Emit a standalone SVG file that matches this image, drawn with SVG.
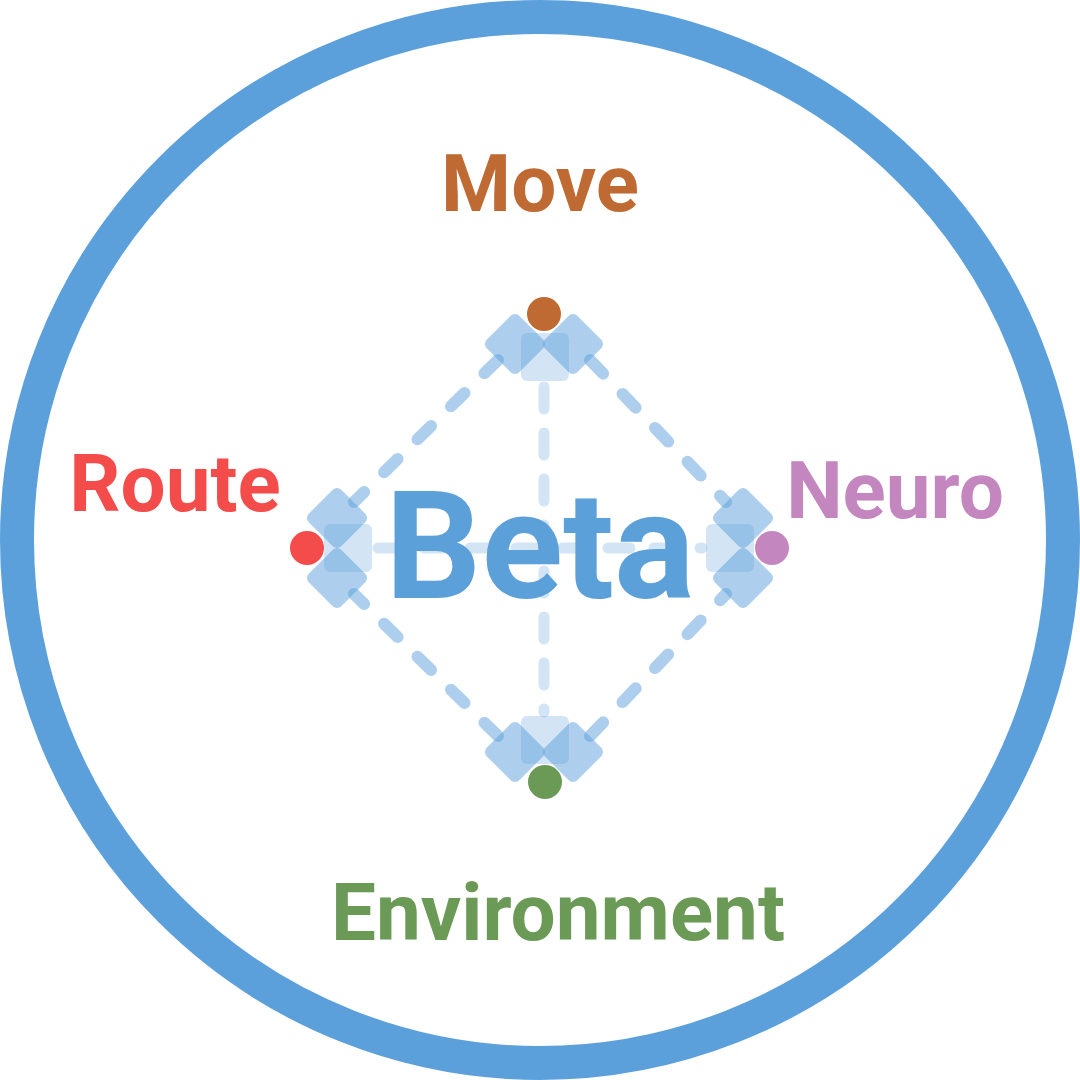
<svg xmlns="http://www.w3.org/2000/svg" width="1080" height="1080" viewBox="0 0 1080 1080">
  <style>
    .lbl { font-family: Roboto, "Liberation Sans", sans-serif; font-weight: 700; text-anchor: middle; }
    .edge { fill: none; stroke: #5b9fdb; stroke-opacity: 0.5; stroke-width: 12; stroke-linecap: round; stroke-dasharray: 19 28; }
    .axis { fill: none; stroke: #5b9fdb; stroke-opacity: 0.27; stroke-width: 11; stroke-linecap: round; stroke-dasharray: 22 24; }
    .port { fill: #5b9fdb; fill-opacity: 0.5; }
    .pad { fill: #5b9fdb; fill-opacity: 0.27; }
  </style>
  <defs>
    <rect id="dm" x="-23" y="-23" width="46" height="46" rx="6" transform="rotate(45)"/>
    <rect id="sq" x="-24" y="-24" width="48" height="48" rx="6"/>
  </defs>
  <rect width="1080" height="1080" fill="#ffffff"/>
  <circle cx="540" cy="540" r="523" fill="none" stroke="#5ca0db" stroke-width="34"/>

  <g id="connectors">
    <line class="edge" x1="498" y1="360" x2="354" y2="502"/>
    <line class="edge" x1="590" y1="360" x2="726" y2="502"/>
    <line class="edge" x1="498" y1="736" x2="354" y2="594"/>
    <line class="edge" x1="590" y1="736" x2="726" y2="594"/>
    <line class="axis" x1="544" y1="387" x2="544" y2="712"/>
    <line class="axis" x1="378" y1="548" x2="702" y2="548"/>
  </g>

  <g id="node-move">
    <use href="#sq" x="545" y="357" class="pad"/>
    <use href="#dm" x="515" y="344" class="port"/>
    <use href="#dm" x="573" y="344" class="port"/>
    <circle cx="544" cy="314" r="17" fill="#bf6a33"/>
    <text class="lbl" x="540" y="211" font-size="80" fill="#bf6a33">Move</text>
  </g>

  <g id="node-route">
    <use href="#sq" x="348" y="548" class="pad"/>
    <use href="#dm" x="337" y="518" class="port"/>
    <use href="#dm" x="337" y="578" class="port"/>
    <circle cx="307" cy="548" r="17" fill="#f44b4b"/>
    <text class="lbl" x="175" y="511" font-size="80" fill="#f44b4b">Route</text>
  </g>

  <g id="node-neuro">
    <use href="#sq" x="730" y="548" class="pad"/>
    <use href="#dm" x="743" y="518" class="port"/>
    <use href="#dm" x="743" y="578" class="port"/>
    <circle cx="772" cy="548" r="17" fill="#c386be"/>
    <text class="lbl" x="895" y="518" font-size="80" fill="#c386be">Neuro</text>
  </g>

  <g id="node-environment">
    <use href="#sq" x="545" y="740" class="pad"/>
    <use href="#dm" x="515" y="752" class="port"/>
    <use href="#dm" x="573" y="752" class="port"/>
    <circle cx="545" cy="782" r="17" fill="#6a9a55"/>
    <text class="lbl" x="558" y="940" font-size="80" fill="#6a9a55">Environment</text>
  </g>

  <g id="node-beta">
    <text class="lbl" x="540" y="598" font-size="151" fill="#5ca0da">Beta</text>
  </g>
</svg>
